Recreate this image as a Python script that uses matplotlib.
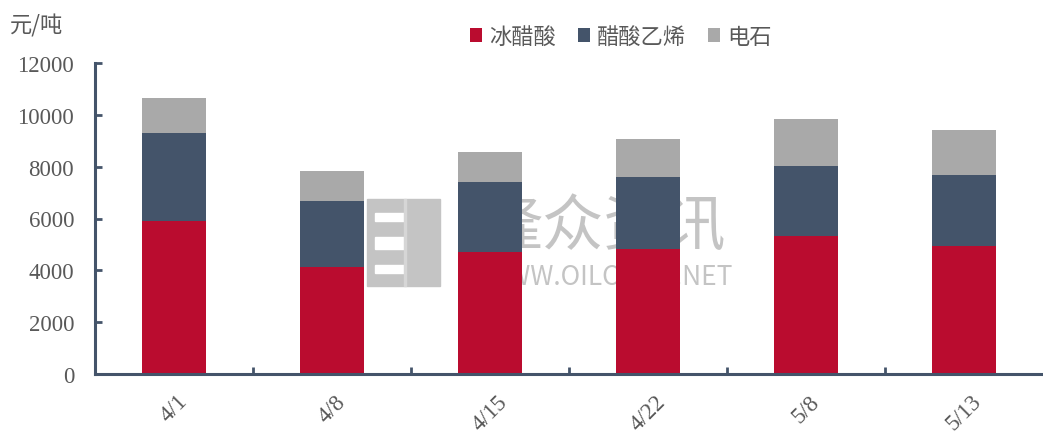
import numpy as np
import matplotlib.pyplot as plt
import matplotlib.transforms as mtrans
from matplotlib.patches import Rectangle

plt.rcParams['font.family'] = ['Noto Sans CJK SC', 'DejaVu Sans']

dates = ['4/1', '4/8', '4/15', '4/22', '5/8', '5/13']
acetic_acid = [5900, 4120, 4710, 4840, 5330, 4920]   # 冰醋酸
vinyl_acetate = [3400, 2560, 2680, 2750, 2710, 2750]  # 醋酸乙烯
carbide = [1350, 1150, 1190, 1470, 1790, 1760]       # 电石

red = '#BA0C2F'
navy = '#44546A'
grey = '#A9A9A9'
txt = '#595959'
wm = '#c4c4c4'

fig = plt.figure(figsize=(10.43, 4.39), dpi=100)
ax = fig.add_axes([0.091, 0.146, 0.909, 0.708])

x = np.arange(len(dates))
w = 0.41
b2 = np.array(acetic_acid)
b3 = b2 + np.array(vinyl_acetate)
ax.bar(x, acetic_acid, w, color=red, label='冰醋酸', zorder=2)
ax.bar(x, vinyl_acetate, w, bottom=b2, color=navy, label='醋酸乙烯', zorder=2)
ax.bar(x, carbide, w, bottom=b3, color=grey, label='电石', zorder=2)

# watermark (logo + text), sits behind the bars
ax.text(2.72, 5000, '隆众资讯', fontsize=44, color=wm, ha='center', va='baseline',
        zorder=1)
ax.text(2.75, 3780, 'WWW.OILCHEM.NET', fontsize=19, color=wm, ha='center',
        va='center', zorder=1)

def fig_box(x0, y0, x1, y1, c):
    fig.patches.append(Rectangle((x0 / 1043, 1 - y1 / 439), (x1 - x0) / 1043, (y1 - y0) / 439,
                                 transform=fig.transFigure, color=c, zorder=0.5))
fig_box(367, 200, 440, 287, wm)
fig_box(375, 214, 405, 222, 'white')
fig_box(375, 238, 405, 250, 'white')
fig_box(375, 266, 405, 274, 'white')
fig_box(404, 200, 406, 287, '#d6d6d6')

ax.set_xlim(-0.5, len(dates) - 0.5)
ax.set_ylim(0, 12000)
ax.set_yticks(range(0, 12001, 2000))
ax.set_yticklabels([str(v) for v in range(0, 12001, 2000)],
                   family='Liberation Serif', fontsize=16.5, color=txt)

ax.set_xticks(x)
ax.set_xticklabels(dates, rotation=45, family='Liberation Serif', fontsize=16.5,
                   color=txt, ha='center')
shift = mtrans.ScaledTranslation(-8 / 100, 0, fig.dpi_scale_trans)
for lbl in ax.get_xticklabels():
    lbl.set_transform(lbl.get_transform() + shift)
ax.set_xticks(np.arange(0.5, len(dates) - 1, 1), minor=True)
ax.tick_params(axis='x', which='major', length=0, pad=12)
ax.tick_params(axis='x', which='minor', direction='in', length=5, width=2, color=navy)
ax.tick_params(axis='y', direction='in', length=5, width=2, color=navy, pad=15)

for s in ['top', 'right']:
    ax.spines[s].set_visible(False)
for s in ['left', 'bottom']:
    ax.spines[s].set_color(navy)
    ax.spines[s].set_linewidth(2.2)

fig.text(0.01, 0.94, '元/吨', fontsize=16, color=txt, va='center')
fig.legend(loc='center', bbox_to_anchor=(0.595, 0.915), ncol=3, frameon=False,
           fontsize=16, handlelength=0.55, handleheight=0.55, handletextpad=0.3,
           columnspacing=1.0, labelcolor=txt)

fig.savefig('out.png', dpi=100)
